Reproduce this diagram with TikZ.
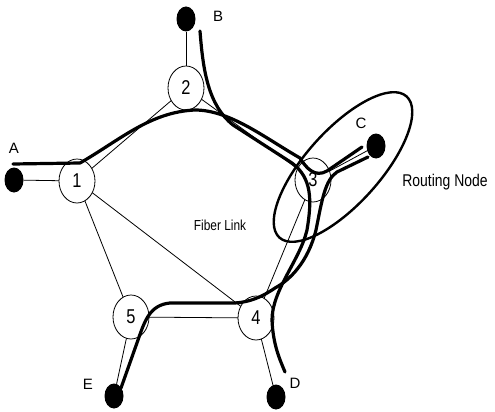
\documentclass[tikz,border=0pt]{standalone}
\usepackage{fontspec}
\setmainfont{Liberation Sans}
\usetikzlibrary{shapes.geometric}
\newcommand{\cond}[1]{\scalebox{0.82}[1]{#1}}
\begin{document}
\begin{tikzpicture}[x=1pt,y=-1pt,
  nd/.style={draw,ellipse,fill=white,line width=0.8pt,minimum width=36pt,minimum height=44pt,inner sep=0pt,font=\fontsize{20}{20}\selectfont},
  dot/.style={ellipse,fill=black,minimum width=19pt,minimum height=25pt,inner sep=0pt},
  thin/.style={line width=0.8pt},
  lp/.style={line width=3.2pt,line cap=round,line join=round},
  lbl/.style={font=\fontsize{15}{15}\selectfont,inner sep=0pt},
]
\useasboundingbox (0,0) rectangle (495,412);
% endpoint dots
\node[dot] (dA) at (14,180) {};
\node[dot] (dB) at (186,19) {};
\node[dot] (dC) at (376,146) {};
\node[dot] (dD) at (276,397) {};
\node[dot] (dE) at (114,396) {};
% node coordinates
\coordinate (p1) at (77,181);
\coordinate (p2) at (186,88);
\coordinate (p3) at (313,180);
\coordinate (p4) at (256,318);
\coordinate (p5) at (131,317);
% thin fiber links
\draw[thin] (dA) -- (p1);
\draw[thin] (dB) -- (p2);
\draw[thin] (p1) -- (p2);
\draw[thin] (p2) -- (p3);
\draw[thin] (p1) -- (p5);
\draw[thin] (p1) -- (p4);
\draw[thin] (p5) -- (p4);
\draw[thin] (p3) -- (p4);
\draw[thin] (p3) -- (dC);
\draw[thin] (p5) -- (dE);
\draw[thin] (p4) -- (dD);
% nodes
\node[nd] (n1) at (p1) {\cond{1}};
\node[nd] (n2) at (p2) {\cond{2}};
\node[nd] (n3) at (p3) {\cond{3}};
\node[nd] (n4) at (p4) {\cond{4}};
\node[nd] (n5) at (p5) {\cond{5}};
% lightpaths
\coordinate (sA) at (13,164);
\coordinate (sB) at (200,31);
\coordinate (sC1) at (362,147);
\coordinate (sC2) at (368,157);
\coordinate (sD) at (285,372);
\coordinate (sE) at (121,388);
\draw[lp] (sA) -- (80,163) .. controls (120,140) and (150,112) .. (195,110)
  .. controls (230,110) and (265,138) .. (300,158)
  .. controls (306,168) and (315,178) .. (327,171) -- (sC1);
\draw[lp] (sB) .. controls (203,70) and (208,105) .. (233,125) -- (292,163)
  .. controls (312,178) and (312,200) .. (307,230)
  .. controls (300,260) and (272,290) .. (272,320)
  .. controls (273,345) and (280,360) .. (sD);
\draw[lp] (sC2) -- (337,172) .. controls (325,180) and (322,200) .. (316,230)
  .. controls (308,262) and (290,280) .. (275,288)
  .. controls (262,297) and (250,302) .. (235,303) -- (170,303)
  .. controls (150,305) and (145,320) .. (138,340) -- (sE);
% routing node ellipse
\node[draw,ellipse,line width=2.4pt,minimum width=190pt,minimum height=74pt,rotate=48] (rn) at (343,167) {};
% labels
\node[lbl] (lA) at (14,148) {A};
\node[lbl] (lB) at (218,16) {B};
\node[lbl] (lC) at (361,123) {C};
\node[lbl] (lD) at (295,383) {D};
\node[lbl] (lE) at (88,384) {E};
\node[font=\fontsize{17}{17}\selectfont,inner sep=0pt] (lrn) at (445,182) {\cond{Routing Node}};
\node[font=\fontsize{14.5}{14.5}\selectfont,inner sep=0pt] (lfl) at (220,225) {\cond{Fiber Link}};
\end{tikzpicture}
\end{document}
